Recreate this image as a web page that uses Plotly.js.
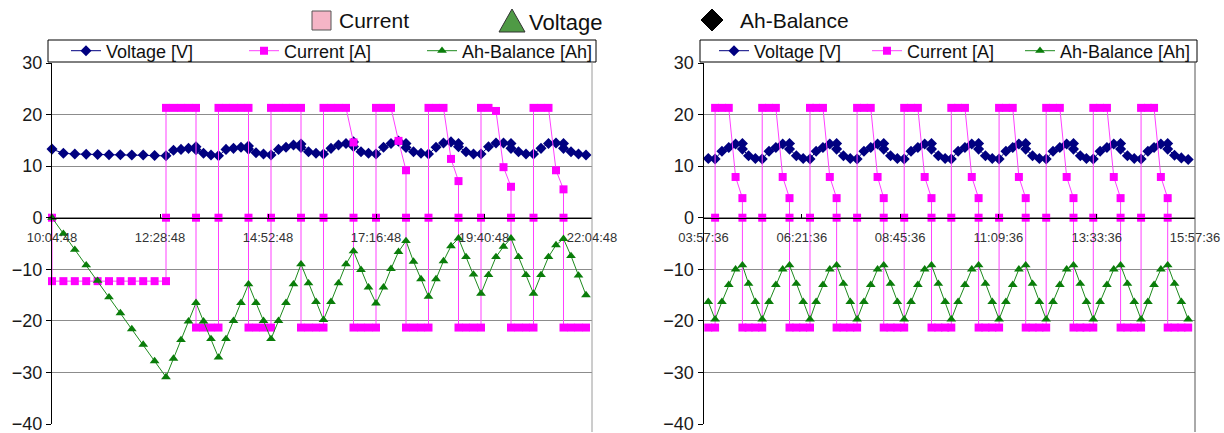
<!DOCTYPE html>
<html><head><meta charset="utf-8">
<script src="https://cdn.plot.ly/plotly-3.0.1.min.js"></script>
<style>html,body{margin:0;padding:0;background:#fff}#chart{width:1224px;height:433px}</style>
</head><body><div id="chart"></div>
<script>
// ---------- tick labels (x in minutes after the first tick) ----------
const leftTickVals = [0, 144, 288, 432, 576, 720];
const leftTickText = ['10:04:48', '12:28:48', '14:52:48', '17:16:48', '19:40:48', '22:04:48'];
const rightTickVals = [0, 144, 288, 432, 576, 720];
const rightTickText = ['03:57:36', '06:21:36', '08:45:36', '11:09:36', '13:33:36', '15:57:36'];
const yTickVals = [-40, -30, -20, -10, 0, 10, 20, 30];

// ---------- left panel ----------
const leftVoltageTime = [0,15.2,30.4,45.6,60.8,76,91.2,106.4,121.6,136.8,152,
  162,172,182,192,192,202,212,222,
  232,242,252,262,262,272,282,292,
  302,312,322,332,332,342,352,362,
  372,382,392,402,402,412,422,432,
  442,452,462,472,472,482,492,502,
  512,522,532,542,542,552,562,572,
  582,592,602,612,612,622,632,642,
  652,662,672,682,682,692,702,712];
const leftVoltage = [13.3,12.5,12.35,12.3,12.25,12.2,12.2,12.15,12.15,12.05,12.0,
  13.1,13.25,13.45,13.75,13.2,12.5,12.15,12.0,
  13.25,13.45,13.65,13.9,13.3,12.6,12.35,12.15,
  13.25,13.65,14.1,14.3,13.6,12.8,12.5,12.35,
  13.45,14.1,14.4,14.7,13.8,12.8,12.5,12.35,
  13.65,14.4,14.85,14.4,13.6,12.8,12.5,12.35,
  13.65,14.5,14.7,14.4,13.75,12.8,12.35,12.35,
  13.75,14.5,14.5,14.4,13.45,12.8,12.35,12.35,
  13.45,14.4,14.5,14.4,13.45,12.8,12.35,12.15];

const leftCurrentTime = [0,0,15.2,30.4,45.6,60.8,76,91.2,106.4,121.6,136.8,152,152,152,
  162,172,182,192,192,192,
  202,212,222,222,222,
  232,242,252,262,262,262,
  272,282,292,292,292,
  302,312,322,332,332,332,
  342,352,362,362,362,
  372,382,392,402,402,402,
  412,422,432,432,432,
  442,452,462,472,472,472,
  482,492,502,502,502,
  512,522,532,542,542,542,
  552,562,572,572,572,
  582,592,602,612,612,612,
  622,632,642,642,642,
  652,662,672,682,682,682,
  692,702,712];
const leftCurrent = [0,-12.3,-12.3,-12.3,-12.3,-12.3,-12.3,-12.3,-12.3,-12.3,-12.3,-12.3,0,21.3,
  21.3,21.3,21.3,21.3,0,-21.3,
  -21.3,-21.3,-21.3,0,21.3,
  21.3,21.3,21.3,21.3,0,-21.3,
  -21.3,-21.3,-21.3,0,21.3,
  21.3,21.3,21.3,21.3,0,-21.3,
  -21.3,-21.3,-21.3,0,21.3,
  21.3,21.3,21.3,14.6,0,-21.3,
  -21.3,-21.3,-21.3,0,21.3,
  21.3,21.3,14.9,9.2,0,-21.3,
  -21.3,-21.3,-21.3,0,21.3,
  21.3,21.3,11.4,7.1,0,-21.3,
  -21.3,-21.3,-21.3,0,21.3,
  21.3,20.7,9.8,6.0,0,-21.3,
  -21.3,-21.3,-21.3,0,21.3,
  21.3,21.3,9.2,5.5,0,-21.3,
  -21.3,-21.3,-21.3];

const leftAhTime = [0,15.2,30.4,45.6,60.8,76,91.2,106.4,121.6,136.8,152,
  162,172,182,192, 202,212,222,
  232,242,252,262, 272,282,292,
  302,312,322,332, 342,352,362,
  372,382,392,402, 412,422,432,
  442,452,462,472, 482,492,502,
  512,522,532,542, 552,562,572,
  582,592,602,612, 622,632,642,
  652,662,672,682, 692,702,712];
const leftAh = [0,-3.1,-6.2,-9.2,-12.2,-15.4,-18.5,-21.6,-24.6,-27.8,-30.9,
  -27.3,-23.7,-20.1,-16.5, -20.1,-23.5,-27.1,
  -23.5,-20.0,-16.5,-12.9, -16.5,-20.0,-23.5,
  -20.0,-16.5,-12.9,-9.0, -12.7,-16.3,-19.8,
  -16.3,-12.7,-9.0,-6.5, -10.1,-13.5,-16.6,
  -13.5,-9.9,-6.6,-4.5, -8.5,-11.9,-15.3,
  -11.9,-8.4,-5.5,-4.0, -7.6,-11.0,-14.7,
  -11.1,-7.6,-5.6,-4.0, -7.6,-11.1,-14.7,
  -11.1,-7.6,-5.3,-4.1, -7.4,-11.2,-15.0];

// ---------- right panel ----------
const rightVoltageTime = [7,
  17,27,37,47,57,57,66,76,
  86,96,106,116,126,126,136,146,
  156,165,175,185,195,195,205,215,
  225,235,245,255,264,264,274,284,
  294,304,314,324,334,334,344,354,
  363,373,383,393,403,403,413,423,
  433,443,453,462,472,472,482,492,
  502,512,522,532,542,542,552,561,
  571,581,591,601,611,611,621,631,
  641,651,660,670,680,680,690,700,
  710];
const rightVoltage = [11.5,
  11.4,12.9,13.6,14.3,14.4,13.3,12.0,11.5,
  11.4,12.9,13.6,14.3,14.4,13.3,12.0,11.5,
  11.4,12.9,13.6,14.3,14.4,13.3,12.0,11.5,
  11.4,12.9,13.6,14.3,14.4,13.3,12.0,11.5,
  11.4,12.9,13.6,14.3,14.4,13.3,12.0,11.5,
  11.4,12.9,13.6,14.3,14.4,13.3,12.0,11.5,
  11.4,12.9,13.6,14.3,14.4,13.3,12.0,11.5,
  11.4,12.9,13.6,14.3,14.4,13.3,12.0,11.5,
  11.4,12.9,13.6,14.3,14.4,13.3,12.0,11.5,
  11.4,12.9,13.6,14.3,14.4,13.3,12.1,11.6,
  11.3];

const rightCurrentTime = [7,
  17,17,17,27,37,47,57,57,57,66,76,
  86,86,86,96,106,116,126,126,126,136,146,
  156,156,156,165,175,185,195,195,195,205,215,
  225,225,225,235,245,255,264,264,264,274,284,
  294,294,294,304,314,324,334,334,334,344,354,
  363,363,363,373,383,393,403,403,403,413,423,
  433,433,433,443,453,462,472,472,472,482,492,
  502,502,502,512,522,532,542,542,542,552,561,
  571,571,571,581,591,601,611,611,611,621,631,
  641,641,641,651,660,670,680,680,680,690,700,
  710];
const rightCurrent = [-21.3,
  -21.3,0,21.3,21.3,21.3,7.9,3.8,0,-21.3,-21.3,-21.3,
  -21.3,0,21.3,21.3,21.3,7.9,3.8,0,-21.3,-21.3,-21.3,
  -21.3,0,21.3,21.3,21.3,7.9,3.8,0,-21.3,-21.3,-21.3,
  -21.3,0,21.3,21.3,21.3,7.9,3.8,0,-21.3,-21.3,-21.3,
  -21.3,0,21.3,21.3,21.3,7.9,3.8,0,-21.3,-21.3,-21.3,
  -21.3,0,21.3,21.3,21.3,7.9,3.8,0,-21.3,-21.3,-21.3,
  -21.3,0,21.3,21.3,21.3,7.9,3.8,0,-21.3,-21.3,-21.3,
  -21.3,0,21.3,21.3,21.3,7.9,3.8,0,-21.3,-21.3,-21.3,
  -21.3,0,21.3,21.3,21.3,7.9,3.8,0,-21.3,-21.3,-21.3,
  -21.3,0,21.3,21.3,21.3,7.9,3.8,0,-21.3,-21.3,-21.3,
  -21.3];

const rightAhTime = [7,
  17,27,37,47,57,66,76,
  86,96,106,116,126,136,146,
  156,165,175,185,195,205,215,
  225,235,245,255,264,274,284,
  294,304,314,324,334,344,354,
  363,373,383,393,403,413,423,
  433,443,453,462,472,482,492,
  502,512,522,532,542,552,561,
  571,581,591,601,611,621,631,
  641,651,660,670,680,690,700,
  710];
const rightAh = [-16.3,
  -19.7,-16.3,-13.0,-10.0,-9.2,-12.8,-16.3,
  -19.7,-16.3,-13.0,-10.0,-9.2,-12.8,-16.3,
  -19.7,-16.3,-13.0,-10.0,-9.2,-12.8,-16.3,
  -19.7,-16.3,-13.0,-10.0,-9.2,-12.8,-16.3,
  -19.7,-16.3,-13.0,-10.0,-9.2,-12.8,-16.3,
  -19.7,-16.3,-13.0,-10.0,-9.2,-12.8,-16.3,
  -19.7,-16.3,-13.0,-10.0,-9.2,-12.8,-16.3,
  -19.7,-16.3,-13.0,-10.0,-9.2,-12.8,-16.3,
  -19.7,-16.3,-13.0,-10.0,-9.2,-12.8,-16.3,
  -19.7,-16.3,-13.0,-10.0,-9.2,-12.8,-16.3,
  -19.7];

const seriesNames = ['Voltage [V]', 'Current [A]', 'Ah-Balance [Ah]'];
const headerLabels = ['Current', 'Voltage', 'Ah-Balance'];

// ---------- geometry helpers (page pixels -> paper fractions) ----------
const W = 1224, H = 433, ML = 52, MR = 29, MT = 63, MB = 9;
const PW = W - ML - MR, PH = H - MT - MB;
const px = X => (X - ML) / PW;
const py = Y => (H - MB - Y) / PH;

const FONT = 'Liberation Sans, Arial, Helvetica, sans-serif';
const NAVY = '#000080', MAG = '#ff00ff', GREEN = '#0a7d0a';

function series(xs, ys, name, kind, xa, ya, leg, legWidth) {
  const st = {
    V: {sym: 'diamond', size: 8.5, color: NAVY, line: NAVY},
    I: {sym: 'square', size: 8, color: MAG, line: '#ff40ff'},
    A: {sym: 'triangle-up', size: 8.5, color: GREEN, line: '#1d8a1d'}
  }[kind];
  const tr = {
    x: xs, y: ys, name: name, type: 'scatter', mode: 'lines+markers',
    xaxis: xa, yaxis: ya, legend: leg, cliponaxis: false,
    line: {color: st.line, width: 1},
    marker: {symbol: st.sym, size: st.size, color: st.color, line: {width: 0}}
  };
  if (legWidth) tr.legendwidth = legWidth;
  return tr;
}

const data = [
  series(leftVoltageTime, leftVoltage, seriesNames[0], 'V', 'x', 'y', 'legend'),
  series(leftCurrentTime, leftCurrent, seriesNames[1], 'I', 'x', 'y', 'legend'),
  series(leftAhTime, leftAh, seriesNames[2], 'A', 'x', 'y', 'legend', 150),
  series(rightVoltageTime, rightVoltage, seriesNames[0], 'V', 'x2', 'y2', 'legend2'),
  series(rightCurrentTime, rightCurrent, seriesNames[1], 'I', 'x2', 'y2', 'legend2'),
  series(rightAhTime, rightAh, seriesNames[2], 'A', 'x2', 'y2', 'legend2', 150)
];

const zeroPos = 40 / 70;
function xAxis(domain, vals, text) {
  return {
    domain: domain, range: [0, 720], anchor: 'free', position: zeroPos,
    tickmode: 'array', tickvals: vals, ticktext: text,
    showline: true, linecolor: '#000', linewidth: 1,
    ticks: 'inside', ticklen: 4, tickcolor: '#000',
    ticklabelstandoff: 8, ticklabeloverflow: 'allow',
    showgrid: false, zeroline: false, fixedrange: true,
    tickfont: {family: FONT, size: 13, color: '#333'}
  };
}
function yAxis(anchor) {
  return {
    domain: [0, 1], range: [-40, 30], anchor: anchor,
    tickmode: 'array', tickvals: yTickVals,
    showline: true, linecolor: '#000', linewidth: 1,
    ticks: 'outside', ticklen: 5, tickcolor: '#000',
    ticklabeloverflow: 'allow',
    showgrid: true, gridcolor: '#8c8c8c', gridwidth: 1,
    zeroline: false, fixedrange: true,
    tickfont: {family: FONT, size: 18, color: '#1a1a1a'}
  };
}

const legendBase = {
  orientation: 'h', xanchor: 'left', yanchor: 'middle',
  bgcolor: 'rgba(0,0,0,0)', borderwidth: 0,
  font: {family: FONT, size: 18, color: '#111'},
  entrywidthmode: 'pixels', itemclick: false, itemdoubleclick: false
};

const layout = {
  width: W, height: H,
  margin: {l: ML, r: MR, t: MT, b: MB, pad: 0},
  paper_bgcolor: '#fff', plot_bgcolor: '#fff',
  font: {family: FONT},
  showlegend: true,
  xaxis: xAxis([0, px(592)], leftTickVals, leftTickText),
  yaxis: yAxis('x'),
  xaxis2: xAxis([px(703.5), 1], rightTickVals, rightTickText),
  yaxis2: yAxis('x2'),
  legend: Object.assign({}, legendBase, {x: px(66), y: py(51), entrywidth: 133}),
  legend2: Object.assign({}, legendBase, {x: px(714), y: py(51), entrywidth: 108}),
  shapes: [
    // legend boxes
    {type: 'rect', xref: 'paper', yref: 'paper', x0: px(48), x1: px(596), y0: py(62), y1: py(40),
     line: {color: '#000', width: 1}, fillcolor: '#fff', layer: 'above'},
    {type: 'rect', xref: 'paper', yref: 'paper', x0: px(700), x1: px(1197), y0: py(62), y1: py(40),
     line: {color: '#000', width: 1}, fillcolor: '#fff', layer: 'above'},
    // right borders of the plot areas
    {type: 'line', xref: 'paper', yref: 'paper', x0: px(592), x1: px(592), y0: py(62), y1: py(432),
     line: {color: '#9a9a9a', width: 1}},
    {type: 'line', xref: 'paper', yref: 'paper', x0: px(1195), x1: px(1195), y0: py(62), y1: py(432),
     line: {color: '#555', width: 1}},
    // header symbols
    {type: 'rect', xref: 'paper', yref: 'paper', x0: px(312), x1: px(331), y0: py(30), y1: py(11),
     line: {color: '#555', width: 1}, fillcolor: '#f5b5c6'},
    {type: 'path', xref: 'paper', yref: 'paper',
     path: `M ${px(512)} ${py(9)} L ${px(525)} ${py(32)} L ${px(499)} ${py(32)} Z`,
     line: {color: '#333', width: 1}, fillcolor: '#4f9a45'},
    {type: 'path', xref: 'paper', yref: 'paper',
     path: `M ${px(712)} ${py(9)} L ${px(723)} ${py(20)} L ${px(712)} ${py(31)} L ${px(701)} ${py(20)} Z`,
     line: {color: '#000', width: 1}, fillcolor: '#000'}
  ],
  annotations: [
    {text: headerLabels[0], xref: 'paper', yref: 'paper', x: px(337), y: py(20), xanchor: 'left', yanchor: 'middle',
     showarrow: false, font: {family: FONT, size: 21, color: '#111'}},
    {text: headerLabels[1], xref: 'paper', yref: 'paper', x: px(527), y: py(23), xanchor: 'left', yanchor: 'middle',
     showarrow: false, font: {family: FONT, size: 22, color: '#111'}},
    {text: headerLabels[2], xref: 'paper', yref: 'paper', x: px(738), y: py(20), xanchor: 'left', yanchor: 'middle',
     showarrow: false, font: {family: FONT, size: 21, color: '#111'}}
  ]
};

Plotly.newPlot('chart', data, layout, {displayModeBar: false, staticPlot: true});
</script>
</body></html>
